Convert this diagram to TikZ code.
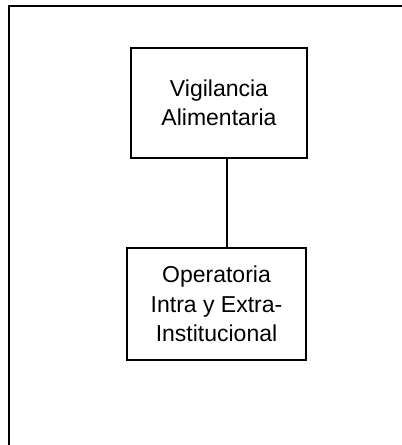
\documentclass[tikz,border=0pt]{standalone}
\usepackage{fontspec}
\setmainfont{Liberation Sans}
\begin{document}
\begin{tikzpicture}[x=1pt,y=1pt,
  box/.style={draw,line width=1.3pt,align=center,inner sep=0pt,
    font=\fontsize{23}{29.5}\selectfont},
  link/.style={line width=1.1pt},
  frame/.style={line width=2pt}]
\useasboundingbox (0,0) rectangle (402,-445);
% open frame: top and left edges only
\draw[frame] (402,-6) -- (9,-6) -- (9,-445);
% boxes
\node[box,minimum width=176,minimum height=110] (vig) at (219,-103)
  {Vigilancia\\Alimentaria};
\node[box,minimum width=179,minimum height=112] (ope) at (216.5,-304)
  {Operatoria\\Intra y Extra-\\Institucional};
% connector
\draw[link] ([xshift=8pt]vig.south) -- ([xshift=10.5pt]ope.north);
\end{tikzpicture}
\end{document}
